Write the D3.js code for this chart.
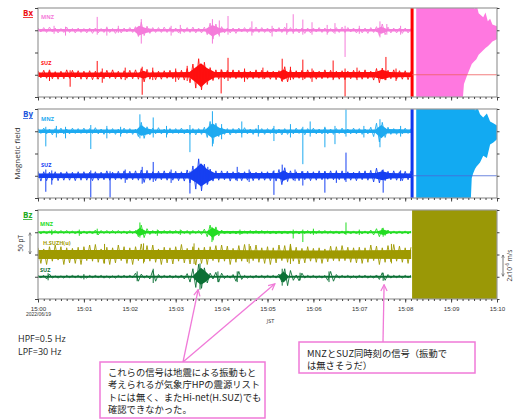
<!DOCTYPE html>
<html>
<head>
<meta charset="utf-8">
<script src="https://cdn.jsdelivr.net/npm/d3@7"></script>
<style>
  body { margin: 0; background: #fff; }
  svg { display: block; font-family: "Open Sans", "Noto Sans", sans-serif; }
</style>
</head>
<body>
<svg id="drawing_region"></svg>
<script>
// time in minutes after 15:00 JST, amplitudes in pT
const minuteLabels = ["15:00","15:01","15:02","15:03","15:04","15:05","15:06","15:07","15:08","15:09","15:10"];
const dateLabel = "2022/06/19";
const quakeOnset = 8.15;
const fineStep = 0.0625;   // one oscillation sample every 3.75 s

// solid core of each trace: [t, up, down]
const bxMnzEnv = [[0,3,3],[2.1,3,3],[2.2,10,12],[2.35,5,6],[2.5,3,3],[3.65,3,3],[3.8,12,14],[3.95,5,6],[4.1,3,3],[7.35,3,3],[7.48,8,8],[7.6,3,3],[8.13,3,3]];
const bxSuzEnv = [[0,5,5],[2.2,5,5],[2.3,9,9],[2.4,5,5],[3.3,6,6],[3.45,18,18],[3.55,26,28],[3.68,15,16],[3.85,6,6],[5.25,6,6],[5.35,12,11],[5.45,6,6],[7.35,6,6],[7.5,11,10],[7.65,6,6],[8.13,5,5]];
const byMnzEnv = [[0,4,4],[2.15,4,4],[2.25,14,10],[2.35,7,8],[2.5,4,4],[3.65,4,4],[3.8,18,16],[3.95,8,9],[4.1,4,4],[7.35,4,4],[7.48,14,16],[7.6,5,5],[8.13,4,4]];
const bySuzEnv = [[0,5,5],[3.3,6,6],[3.45,18,16],[3.55,28,24],[3.68,15,15],[3.85,6,6],[5.25,6,6],[5.35,12,11],[5.45,6,6],[7.35,6,6],[7.5,10,10],[7.65,6,6],[8.13,5,5]];
const bzMnzEnv = [[0,2,2],[2.12,2,2],[2.22,10,8],[2.35,3,3],[3.68,2,2],[3.8,10,12],[3.95,3,3],[7.4,2,2],[7.52,6,6],[7.65,2,2],[8.13,2,2]];
const suzhEnv = [[0,0.4,0.4],[2,0.4,0.4],[4,0.4,0.4],[6,0.35,0.35],[8.13,0.4,0.4]];
const bzSuzEnv = [[0,2,2],[3.38,2,2],[3.47,12,12],[3.55,20,18],[3.65,12,12],[3.75,2,2],[5.25,2,2],[5.35,12,13],[5.45,2,2],[8.13,2,2]];

// oscillation amplitude, one value per fineStep (alternating up / down swings)
const bxMnzFine = [
  5,4,6,5,7,4,5,6,4,5,7,5,4,6,5,5,
  4,6,5,7,5,6,4,5,6,5,4,7,5,6,5,4,
  6,5,8,14,18,12,9,7,6,5,6,5,7,5,6,5,
  5,6,4,5,6,5,7,6,5,6,7,10,16,20,14,10,
  8,6,5,6,5,7,5,4,6,5,6,5,7,5,6,5,
  5,6,5,4,6,5,7,5,6,5,4,6,5,7,5,6,
  5,4,6,5,5,6,4,5,6,5,7,5,6,4,5,6,
  5,6,5,7,6,5,8,12,14,10,7,6,5,6,5,7,
  5,6,4];
const bxSuzFine = [
  9,7,10,8,11,9,7,10,8,9,11,8,10,7,9,10,
  8,10,9,11,8,10,7,9,10,8,11,9,8,10,9,8,
  10,9,11,10,14,16,12,10,9,11,8,10,9,8,10,9,
  9,11,10,12,14,18,24,30,36,34,28,22,16,13,11,10,
  11,9,10,8,11,9,10,8,9,10,8,9,11,8,10,9,
  9,10,8,11,9,14,18,16,12,10,9,8,10,9,11,8,
  9,10,8,9,11,8,10,9,8,10,9,11,8,9,10,8,
  9,10,11,9,8,12,14,18,15,12,10,9,11,10,9,10,
  9,11,8];
const byMnzFine = [
  6,5,7,6,5,8,6,5,7,6,5,6,7,5,6,5,
  7,5,6,5,8,6,5,7,6,5,6,7,5,6,7,5,
  6,7,5,12,20,16,10,8,7,6,8,6,5,7,6,5,
  6,5,7,6,5,7,6,8,6,7,9,14,22,28,18,12,
  9,7,6,8,6,5,7,6,8,6,5,7,6,5,6,7,
  6,5,7,6,5,8,6,7,5,6,7,5,6,8,6,5,
  7,6,5,6,8,6,5,7,6,5,7,6,5,6,7,6,
  6,7,5,6,9,12,18,24,20,14,9,7,6,7,5,6,
  7,5,6];
const bySuzFine = [
  10,12,9,11,8,10,9,11,8,10,9,10,8,11,9,10,
  9,10,8,11,9,10,8,9,11,10,8,9,10,8,11,9,
  10,9,11,10,13,15,12,10,9,11,10,9,11,10,9,10,
  10,11,9,12,13,16,22,30,38,34,26,20,15,12,11,10,
  11,9,10,12,9,10,8,11,9,10,9,11,8,10,9,10,
  9,11,10,12,14,20,18,13,11,10,9,11,10,9,10,11,
  9,10,11,9,10,8,11,9,10,9,11,10,9,10,8,11,
  10,9,11,10,12,14,17,16,13,11,10,9,11,10,9,11,
  10,9,11];
const bzMnzFine = [
  3,4,3,4,3,3,4,3,4,3,4,3,3,4,3,4,
  3,4,3,4,5,6,4,3,4,3,4,3,4,3,3,4,
  4,3,4,10,16,12,8,5,4,3,4,3,4,3,4,3,
  4,3,4,3,4,5,4,3,4,5,7,10,16,18,12,8,
  5,4,3,4,3,4,3,4,3,3,4,3,4,3,4,3,
  3,4,3,4,3,4,3,4,3,4,3,4,3,3,4,3,
  4,3,4,3,4,3,3,4,3,4,3,4,3,4,3,4,
  3,4,3,4,5,6,8,10,9,7,5,4,3,4,3,4,
  3,4,3];
// H.SUZH(u) velocity in µm/s (1 tick = 2 µm/s)
const suzhFine = [
  0.6,0.8,0.5,0.9,0.7,0.6,0.85,0.5,0.7,0.9,0.6,0.75,0.55,0.8,0.65,0.9,
  0.7,0.55,0.85,0.6,0.9,0.7,0.5,0.8,0.65,0.9,0.6,0.75,0.85,0.55,0.7,0.8,
  0.6,0.9,0.7,0.55,0.95,0.65,0.8,0.6,0.85,0.7,0.5,0.9,0.65,0.75,0.6,0.85,
  0.7,0.6,0.9,0.75,0.55,0.85,0.7,0.95,0.6,0.8,0.65,0.9,0.7,0.55,0.8,0.7,
  0.85,0.6,0.75,0.9,0.55,0.7,0.8,0.6,0.9,0.65,0.75,0.55,0.85,0.7,0.6,0.8,
  0.7,0.9,0.6,0.75,0.85,0.55,0.8,0.7,0.9,0.6,0.65,0.85,0.55,0.75,0.7,0.6,
  0.55,0.7,0.6,0.8,0.5,0.65,0.75,0.55,0.7,0.6,0.8,0.55,0.65,0.7,0.6,0.75,
  0.65,0.8,0.6,0.7,0.85,0.55,0.75,0.9,0.6,0.7,0.8,0.65,0.9,0.6,0.75,0.7,
  0.6,0.8,0.65];
const bzSuzFine = [
  3,2,3,5,6,3,2,3,2,3,3,2,3,2,3,3,
  2,3,3,2,3,2,3,3,2,3,2,3,3,2,3,2,
  3,2,8,10,6,3,3,5,14,10,5,3,3,2,3,3,
  3,3,4,5,7,12,18,24,28,26,20,14,8,5,10,12,
  8,4,3,3,5,10,12,6,3,3,2,3,3,2,3,3,
  3,2,3,3,6,12,18,20,14,8,4,9,8,3,3,2,
  3,3,2,3,3,8,12,10,5,3,3,2,3,3,2,3,
  3,2,3,3,2,3,4,6,9,8,5,3,3,2,3,3,
  3,2,3];

// isolated spikes: [t, up, down]
const bxMnzSpikes = [[0.35,10,8],[0.6,8,12],[1.29,30,10],[1.5,8,12],[1.75,10,6],[2.25,25,30],[2.9,10,12],[3.1,12,8],[3.8,25,30],[3.95,22,14],[4.14,32,10],[4.66,20,12],[5.1,10,14],[5.42,16,10],[5.56,36,8],[5.77,24,10],[5.97,18,10],[6.3,12,10],[6.47,16,8],[6.69,10,60],[7.0,10,8],[7.45,20,16],[7.6,14,10],[7.9,10,10]];
const bxSuzSpikes = [[0.25,8,14],[0.7,10,27],[1.29,31,10],[1.4,14,18],[1.9,16,12],[2.27,18,45],[2.5,16,12],[3.0,14,16],[3.25,20,14],[3.99,12,42],[4.14,38,14],[4.5,14,16],[4.9,16,10],[5.32,36,16],[5.5,18,12],[5.77,34,12],[5.97,14,16],[6.43,32,12],[6.69,14,49],[6.95,16,12],[7.58,40,12],[7.8,14,14]];
const byMnzSpikes = [[0.17,10,34],[0.4,12,14],[0.6,10,16],[1.15,14,40],[1.5,12,16],[1.8,10,12],[2.22,38,16],[2.51,31,14],[2.8,12,14],[3.31,14,47],[3.8,45,34],[4.0,16,18],[4.44,22,14],[4.8,14,12],[5.14,12,22],[5.5,16,14],[5.77,10,74],[5.93,22,12],[6.25,10,36],[6.47,12,29],[6.71,49,12],[7.1,12,14],[7.45,27,36],[7.9,12,12]];
const bySuzSpikes = [[0.17,14,36],[0.3,12,20],[1.15,12,49],[1.57,10,49],[1.9,14,16],[2.27,20,18],[2.51,31,14],[2.9,14,16],[3.31,10,40],[3.7,20,18],[4.34,20,12],[4.6,14,14],[5.14,12,43],[5.32,25,14],[5.6,14,12],[5.77,10,22],[6.25,10,38],[6.5,12,16],[6.71,52,14],[7.52,14,38],[7.9,12,12]];
const bzMnzSpikes = [[0.3,6,6],[0.9,6,8],[1.29,8,6],[2.22,22,12],[2.6,6,8],[3.1,6,6],[3.79,12,22],[4.4,6,6],[5.56,6,14],[5.77,6,22],[6.0,8,6],[6.71,22,6],[7.0,6,6],[7.52,10,10]];
const suzhSpikes = [[1.45,0.95,0.8],[2.3,1.0,0.8],[3.4,1.0,0.85],[4.6,0.95,0.8],[5.5,0.95,0.85],[7.7,0.95,0.8]];
const bzSuzSpikes = [[0.22,8,8],[1.0,6,6],[2.16,12,10],[2.51,18,14],[3.53,30,29],[3.92,12,12],[4.34,12,12],[5.32,18,20],[5.71,9,8],[6.34,12,12],[7.52,9,9]];

// saturated MNZ records after the onset: [t, up, down] (200 = off scale)
const bxMnzPost = [[8.24,200,200],[9.22,200,200],[9.28,200,121],[9.35,200,101],[9.45,200,76],[9.5,47,70],[9.55,60,65],[9.6,38,55],[9.7,29,45],[9.75,40,40],[9.8,20,36],[9.85,26,31],[9.9,13,25],[10,9,20]];
const byMnzPost = [[8.24,200,200],[9.41,200,200],[9.45,200,105],[9.48,200,95],[9.52,45,85],[9.55,60,80],[9.63,38,70],[9.7,31,55],[9.78,40,60],[9.85,22,30],[9.92,18,25],[10,13,18]];

const noteLeft = ["これらの信号は地震による振動もと","考えられるが気象庁HPの震源リスト","トには無く、またHi-net(H.SUZ)でも","確認できなかった。"];
const noteRight = ["MNZとSUZ同時刻の信号（振動で","は無さそうだ）"];
const filterLabels = ["HPF=0.5 Hz","LPF=30 Hz"];

const W = 514, H = 419;
const svg = d3.select('#drawing_region').attr('width', W).attr('height', H);
const x = d3.scaleLinear().domain([0, 10]).range([38, 497]);

const panels = [
  { name: 'Bx', top: 8, color: '#ee1111', traces: [
      { label: 'MNZ', base: 150, env: bxMnzEnv, fine: bxMnzFine, spikes: bxMnzSpikes, color: '#f57cda', lx: 41, ly: -11 },
      { label: 'SUZ', base: 50, env: bxSuzEnv, fine: bxSuzFine, spikes: bxSuzSpikes, color: '#ff0f0f', lx: 41, ly: -10 } ],
    post: bxMnzPost, postBase: 150, postColor: '#ff78e0', barColor: '#ff0000', lineBase: 50, lineColor: '#f06060' },
  { name: 'By', top: 109, color: '#2255dd', traces: [
      { label: 'MNZ', base: 150, env: byMnzEnv, fine: byMnzFine, spikes: byMnzSpikes, color: '#1eaaf0', lx: 41, ly: -10 },
      { label: 'SUZ', base: 50, env: bySuzEnv, fine: bySuzFine, spikes: bySuzSpikes, color: '#1640f2', lx: 41, ly: -8.5 } ],
    post: byMnzPost, postBase: 150, postColor: '#12aaf2', barColor: '#1238ee', lineBase: 50, lineColor: '#4a6ad8' },
  { name: 'Bz', top: 210, color: '#22aa22', traces: [
      { label: 'MNZ', base: 150, env: bzMnzEnv, fine: bzMnzFine, spikes: bzMnzSpikes, color: '#22dd22', lx: 40, ly: -6 },
      { label: 'H.SUZH(u)', base: 100, env: suzhEnv, fine: suzhFine, spikes: suzhSpikes, color: '#9f9a00', scale: 25, lx: 43, ly: -9.5 },
      { label: 'SUZ', base: 50, env: bzSuzEnv, fine: bzSuzFine, spikes: bzSuzSpikes, color: '#0b7035', lx: 40, ly: -4.5 } ],
    fill: '#9a9806' }
];
const PH = 89;

svg.append('rect').attr('width', W).attr('height', H).attr('fill', '#fff');

const defs = svg.append('defs');
defs.append('marker').attr('id', 'arr').attr('viewBox', '0 0 10 10')
  .attr('refX', 9).attr('refY', 5).attr('markerWidth', 6).attr('markerHeight', 6)
  .attr('orient', 'auto')
  .append('path').attr('d', 'M1,1 L9,5 L1,9').attr('fill', 'none')
  .attr('stroke', '#f07ad8').attr('stroke-width', 1.6);
defs.append('marker').attr('id', 'sc').attr('viewBox', '0 0 10 10')
  .attr('refX', 9).attr('refY', 5).attr('markerWidth', 5).attr('markerHeight', 5)
  .attr('orient', 'auto-start-reverse')
  .append('path').attr('d', 'M1,1 L9,5 L1,9').attr('fill', 'none')
  .attr('stroke', '#444').attr('stroke-width', 1.4);

const minorTicks = d3.range(0, 10.001, 0.125);
const majorTicks = d3.range(0, 11);

panels.forEach((p, pi) => {
  const y = d3.scaleLinear().domain([0, 200]).range([p.top + PH, p.top]);
  const clipId = 'clip' + pi;
  defs.append('clipPath').attr('id', clipId).append('rect')
    .attr('x', x(0)).attr('y', p.top).attr('width', x(10) - x(0)).attr('height', PH);
  const g = svg.append('g').attr('clip-path', `url(#${clipId})`);

  p.traces.forEach(tr => {
    const k = tr.scale || 1;
    const area = d3.area()
      .x(d => x(d[0]))
      .y0(d => y(tr.base - d[2] * k))
      .y1(d => y(tr.base + d[1] * k));
    g.append('path').attr('d', area(tr.env)).attr('fill', tr.color);
    const wave = d3.line()
      .x((d, i) => x(i * fineStep))
      .y((d, i) => y(tr.base + (i % 2 ? -d : d) * k));
    g.append('path').attr('d', wave(tr.fine))
      .attr('fill', 'none').attr('stroke', tr.color).attr('stroke-width', 0.9);
    g.selectAll(null).data(tr.spikes).enter().append('line')
      .attr('x1', d => x(d[0])).attr('x2', d => x(d[0]))
      .attr('y1', d => y(tr.base + d[1] * k)).attr('y2', d => y(tr.base - d[2] * k))
      .attr('stroke', tr.color).attr('stroke-width', 1);
  });

  if (p.post) {
    const area = d3.area()
      .x(d => x(d[0]))
      .y0(d => y(p.postBase - d[2]))
      .y1(d => y(p.postBase + d[1]));
    g.append('path').attr('d', area(p.post)).attr('fill', p.postColor);
    g.append('line')
      .attr('x1', x(quakeOnset)).attr('x2', x(quakeOnset))
      .attr('y1', p.top).attr('y2', p.top + PH)
      .attr('stroke', p.barColor).attr('stroke-width', 3);
    g.append('line')
      .attr('x1', x(quakeOnset)).attr('x2', x(10))
      .attr('y1', y(p.lineBase)).attr('y2', y(p.lineBase))
      .attr('stroke', p.lineColor).attr('stroke-width', 1).attr('opacity', 0.8);
  }
  if (p.fill) {
    g.append('rect').attr('x', x(quakeOnset)).attr('y', p.top)
      .attr('width', x(10) - x(quakeOnset)).attr('height', PH).attr('fill', p.fill);
  }

  // frame and axes
  svg.append('rect').attr('x', x(0)).attr('y', p.top)
    .attr('width', x(10) - x(0)).attr('height', PH)
    .attr('fill', 'none').attr('stroke', '#9a9a9a').attr('stroke-width', 1.2);

  const axisStyle = sel => {
    sel.select('.domain').remove();
    sel.selectAll('.tick line').attr('stroke', '#444');
  };
  svg.append('g').attr('transform', `translate(0,${p.top + PH})`)
    .call(d3.axisBottom(x).tickValues(minorTicks).tickSize(2).tickFormat(''))
    .call(axisStyle);
  const major = svg.append('g').attr('transform', `translate(0,${p.top + PH})`)
    .call(d3.axisBottom(x).tickValues(majorTicks).tickSize(3.5)
      .tickFormat(pi === 2 ? (d => minuteLabels[d]) : ''))
    .call(axisStyle);
  major.selectAll('text').attr('font-size', 6.2).attr('fill', '#333').attr('dy', '0.85em');
  svg.append('g').attr('transform', `translate(${x(0)},0)`)
    .call(d3.axisLeft(y).tickValues([0, 50, 100, 150, 200]).tickSize(3).tickFormat(''))
    .call(axisStyle);
  svg.append('g').attr('transform', `translate(${x(10)},0)`)
    .call(d3.axisRight(y).tickValues([0, 50, 100, 150, 200]).tickSize(2.5).tickFormat(''))
    .call(axisStyle);

  // component label and trace labels
  svg.append('text').attr('x', 23).attr('y', p.top + 8)
    .attr('font-size', 8).attr('font-weight', 'bold').attr('fill', p.color)
    .attr('text-decoration', 'underline').text(p.name);
  p.traces.forEach(tr => {
    svg.append('text')
      .attr('x', tr.lx)
      .attr('y', y(tr.base) + tr.ly)
      .attr('font-size', 5.5).attr('font-weight', 'bold').attr('fill', tr.color)
      .text(tr.label);
  });

  if (pi === 2) {
    major.selectAll('.tick').filter(d => d === 0).append('text')
      .attr('y', 16.5).attr('fill', '#333').attr('font-size', 5).text(dateLabel);
    svg.append('text').attr('x', (x(0) + x(10)) / 2 + 3).attr('y', p.top + PH + 24)
      .attr('text-anchor', 'middle').attr('font-size', 5.5).attr('fill', '#333').text('JST');
    // scale bars
    svg.append('line').attr('x1', 30).attr('x2', 30).attr('y1', y(150) + 0.5).attr('y2', y(100) - 0.5)
      .attr('stroke', '#444').attr('stroke-width', 0.7)
      .attr('marker-start', 'url(#sc)').attr('marker-end', 'url(#sc)');
    svg.append('text').attr('transform', `translate(23,${(y(150) + y(100)) / 2}) rotate(-90)`)
      .attr('text-anchor', 'middle').attr('font-size', 6.5).attr('fill', '#333').text('50 pT');
    svg.append('line').attr('x1', 503).attr('x2', 503).attr('y1', y(100) + 0.5).attr('y2', y(50) - 0.5)
      .attr('stroke', '#444').attr('stroke-width', 0.7)
      .attr('marker-start', 'url(#sc)').attr('marker-end', 'url(#sc)');
    const rt = svg.append('text').attr('transform', `translate(512,${(y(100) + y(50)) / 2}) rotate(-90)`)
      .attr('text-anchor', 'middle').attr('font-size', 6.5).attr('fill', '#333');
    rt.append('tspan').text('2x10');
    rt.append('tspan').attr('font-size', 4.5).attr('dy', -3).text('-6');
    rt.append('tspan').attr('dy', 3).text(' m/s');
    p.y = y;
  }
  if (pi === 1) {
    svg.append('text').attr('transform', `translate(20,${p.top + PH / 2}) rotate(-90)`)
      .attr('text-anchor', 'middle').attr('font-size', 8).attr('fill', '#333').text('Magnetic field');
  }
});

// filter notes
svg.selectAll('.flt').data(filterLabels).enter().append('text')
  .attr('x', 18).attr('y', (d, i) => 342 + i * 13)
  .attr('font-size', 9).attr('fill', '#222').text(d => d);

// annotations
const yz = panels[2].y;
const pink = '#f07ad8';
const arrows = [
  { from: [183, 362], t: 3.49, v: 21 },
  { from: [183, 362], t: 5.16, v: 34 },
  { from: [383, 342], t: 7.54, v: 32 }
];
svg.selectAll('.arw').data(arrows).enter().append('line')
  .attr('x1', d => d.from[0]).attr('y1', d => d.from[1])
  .attr('x2', d => x(d.t)).attr('y2', d => yz(d.v))
  .attr('stroke', pink).attr('stroke-width', 1.3).attr('marker-end', 'url(#arr)');

const boxes = [
  { x: 100, y: 362, w: 165, h: 56, lines: noteLeft, first: 14 },
  { x: 299, y: 342, w: 176, h: 31, lines: noteRight, first: 15 }
];
boxes.forEach(b => {
  svg.append('rect').attr('x', b.x).attr('y', b.y).attr('width', b.w).attr('height', b.h)
    .attr('fill', '#fff').attr('stroke', pink).attr('stroke-width', 1.5);
  svg.selectAll(null).data(b.lines).enter().append('text')
    .attr('x', b.x + 8).attr('y', (d, i) => b.y + b.first + i * 12.3)
    .attr('font-family', '"Noto Sans CJK JP", sans-serif')
    .attr('font-size', 9.3).attr('fill', '#222').text(d => d);
});
</script>
</body>
</html>
